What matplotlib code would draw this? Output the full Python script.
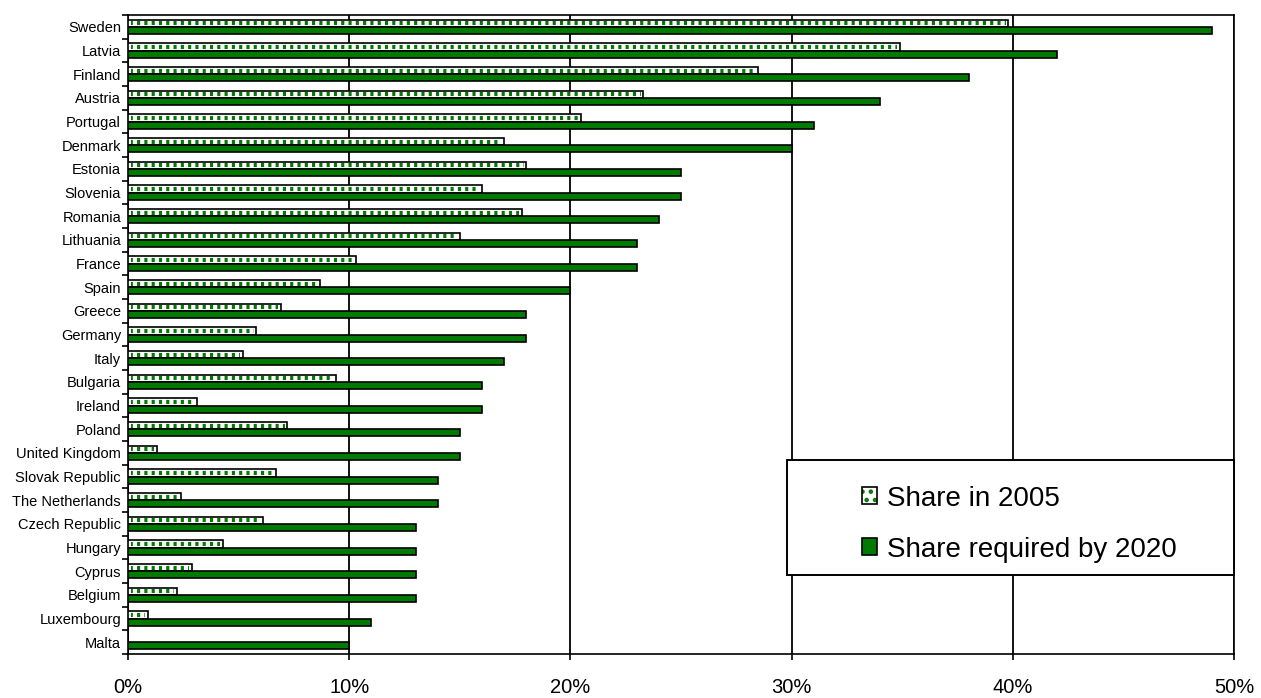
import matplotlib
matplotlib.use("Agg")
import matplotlib.pyplot as plt
import numpy as np
from matplotlib.patches import Patch, Rectangle
from matplotlib.legend_handler import HandlerTuple

plt.rcParams['font.family'] = ['Liberation Sans', 'DejaVu Sans']
plt.rcParams['hatch.linewidth'] = 2.0

countries = ["Sweden", "Latvia", "Finland", "Austria", "Portugal", "Denmark",
             "Estonia", "Slovenia", "Romania", "Lithuania", "France", "Spain",
             "Greece", "Germany", "Italy", "Bulgaria", "Ireland", "Poland",
             "United Kingdom", "Slovak Republic", "The Netherlands",
             "Czech Republic", "Hungary", "Cyprus", "Belgium", "Luxembourg", "Malta"]
share_2005 = [39.8, 34.9, 28.5, 23.3, 20.5, 17.0, 18.0, 16.0, 17.8, 15.0, 10.3,
              8.7, 6.9, 5.8, 5.2, 9.4, 3.1, 7.2, 1.3, 6.7, 2.4, 6.1, 4.3, 2.9,
              2.2, 0.9, 0.0]
share_2020 = [49, 42, 38, 34, 31, 30, 25, 25, 24, 23, 23, 20, 18, 18, 17, 16,
              16, 15, 15, 14, 14, 13, 13, 13, 13, 11, 10]
xticks = [0, 10, 20, 30, 40, 50]

green = "#007a00"

fig = plt.figure(figsize=(12.61, 6.98), dpi=100)
ax = fig.add_axes([0.1015, 0.063, 0.8771, 0.9155])

y = np.arange(len(countries))
h = 0.3
s05 = np.array(share_2005)

# 2005 bars: white fill, a row of green dots, black outline
ax.barh(y - h / 2, s05, height=h, color="white", edgecolor="none",
        linewidth=0, zorder=3)
mask = s05 > 0
ax.hlines(y[mask] - h / 2, 0.12, s05[mask] - 0.12, colors=green,
          linewidth=3.0, linestyles=(0.3, (0.75, 1.0)), zorder=3.5)
ax.barh(y - h / 2, s05, height=h, fill=False, edgecolor="black",
        linewidth=1.2, zorder=4)
# 2020 targets: solid green
ax.barh(y + h / 2, share_2020, height=h, color=green, edgecolor="black",
        linewidth=1.2, zorder=4)

ax.set_ylim(len(countries) - 0.5, -0.5)
ax.set_xlim(0, 50)
ax.set_xticks(xticks)
ax.set_xticklabels([f"{v}%" for v in xticks], fontsize=14.5)
ax.xaxis.grid(True, color="black", linewidth=1.3, zorder=1)
ax.set_axisbelow(True)

ax.set_yticks(y)
ax.set_yticklabels(countries, fontsize=10.5)
ax.set_yticks(np.arange(len(countries) + 1) - 0.5, minor=True)
ax.tick_params(axis="y", which="major", length=0, pad=5)
ax.tick_params(axis="y", which="minor", length=4, width=1.2, direction="out")
ax.tick_params(axis="x", length=4, width=1.2, direction="out", pad=13)

for s in ax.spines.values():
    s.set_linewidth(1.2)
    s.set_color("black")

# legend box
box = Rectangle((0.5958, 0.1236), 0.4042, 0.18, transform=ax.transAxes,
                facecolor="white", edgecolor="black", linewidth=1.4, zorder=9,
                clip_on=False)
ax.add_patch(box)

h05 = (Patch(facecolor="white", edgecolor=green, hatch="..", linewidth=0),
       Patch(facecolor="none", edgecolor="black", linewidth=1.2))
h20 = Patch(facecolor=green, edgecolor="black", linewidth=1.2)
leg = ax.legend([h05, h20], ["Share in 2005", "Share required by 2020"],
                handler_map={tuple: HandlerTuple(ndivide=1, pad=0)},
                loc="center left", bbox_to_anchor=(0.6637, 0.2034),
                borderaxespad=0, borderpad=0, fontsize=20, frameon=False,
                handlelength=0.55, handleheight=0.55, handletextpad=0.35,
                labelspacing=0.9)
leg.set_zorder(10)

fig.savefig("out.png", dpi=100)
